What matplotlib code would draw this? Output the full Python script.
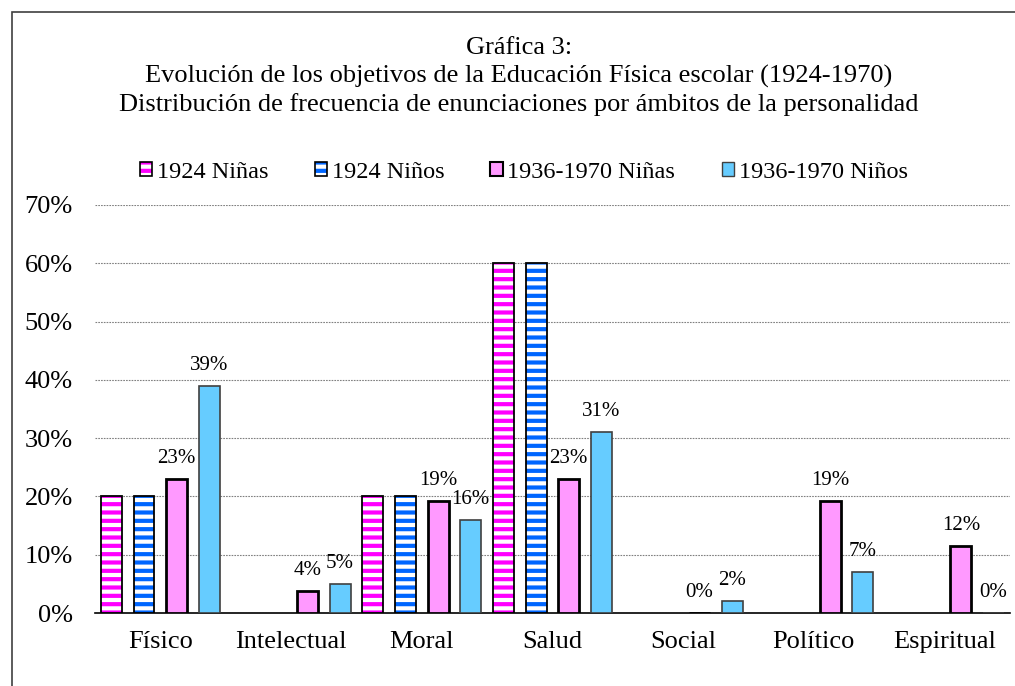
import matplotlib
matplotlib.use("Agg")
import matplotlib.pyplot as plt
import numpy as np
from matplotlib.patches import Rectangle
from matplotlib.legend_handler import HandlerTuple

plt.rcParams['font.family'] = ['Liberation Serif', 'DejaVu Serif']
plt.rcParams['hatch.linewidth'] = 3.0

# data (fractions); None = no bar
categories = ['Físico', 'Intelectual', 'Moral', 'Salud', 'Social', 'Político', 'Espiritual']
ninas_1924 = [0.20, None, 0.20, 0.60, None, None, None]
ninos_1924 = [0.20, None, 0.20, 0.60, None, None, None]
ninas_1936 = [0.23, 0.038, 0.192, 0.23, 0.0, 0.192, 0.115]
ninos_1936 = [0.39, 0.05, 0.16, 0.31, 0.02, 0.07, 0.0]
labels_ninas_1936 = ['23%', '4%', '19%', '23%', '0%', '19%', '12%']
labels_ninos_1936 = ['39%', '5%', '16%', '31%', '2%', '7%', '0%']
series_names = ['1924 Niñas', '1924 Niños', '1936-1970 Niñas', '1936-1970 Niños']

fig = plt.figure(figsize=(10.15, 6.86), dpi=100)
ax = fig.add_axes([0.0936, 0.1064, 0.9014, 0.5948])

x = np.arange(len(categories))
w = 0.16
offs = [-0.375, -0.125, 0.125, 0.375]

# hatched 1924 series: stripes drawn with edgecolor, then a black outline on top
for vals, col, off in [(ninas_1924, '#FF00FF', offs[0]), (ninos_1924, '#0066FF', offs[1])]:
    mask = [v is not None for v in vals]
    xs = x[mask] + off
    hs = [v for v in vals if v is not None]
    ax.bar(xs, hs, w, color='white', edgecolor=col, hatch='--', linewidth=0, zorder=3)
    ax.bar(xs, hs, w, fill=False, edgecolor='black', linewidth=1.3, zorder=4)

ax.bar(x + offs[2], ninas_1936, w, color='#FF99FF', edgecolor='black', linewidth=2, zorder=3)
ax.bar(x + offs[3], ninos_1936, w, color='#66CCFF', edgecolor='#404040', linewidth=1.2, zorder=3)

for i in range(len(categories)):
    ax.annotate(labels_ninas_1936[i], (x[i] + offs[2], ninas_1936[i]), xytext=(0, 8),
                textcoords='offset points', ha='center', va='bottom', fontsize=15)
    ax.annotate(labels_ninos_1936[i], (x[i] + offs[3], ninos_1936[i]), xytext=(0, 8),
                textcoords='offset points', ha='center', va='bottom', fontsize=15)

ax.set_xlim(-0.5, len(categories) - 0.5)
ax.set_ylim(0, 0.70)
ticks = np.arange(0, 0.71, 0.1)
ax.set_yticks(ticks)
ax.set_yticklabels([f'{int(round(t * 100))}%' for t in ticks], fontsize=19)
ax.set_xticks(x)
ax.set_xticklabels(categories, fontsize=19)
ax.tick_params(axis='y', length=0, pad=16)
ax.tick_params(axis='x', length=0, pad=13)
ax.yaxis.grid(True, linestyle=(0, (1.5, 1)), color='#808080', linewidth=0.8)
ax.set_axisbelow(True)
for s in ['top', 'right', 'left']:
    ax.spines[s].set_visible(False)
ax.spines['bottom'].set_linewidth(1.2)

# legend
h1 = (Rectangle((0, 0), 1, 1, facecolor='white', edgecolor='#FF00FF', hatch='--', linewidth=0),
      Rectangle((0, 0), 1, 1, fill=False, edgecolor='black', linewidth=1.2))
h2 = (Rectangle((0, 0), 1, 1, facecolor='white', edgecolor='#0066FF', hatch='--', linewidth=0),
      Rectangle((0, 0), 1, 1, fill=False, edgecolor='black', linewidth=1.2))
h3 = Rectangle((0, 0), 1, 1, facecolor='#FF99FF', edgecolor='black', linewidth=1.5)
h4 = Rectangle((0, 0), 1, 1, facecolor='#66CCFF', edgecolor='#404040', linewidth=1)
fig.legend([h1, h2, h3, h4], series_names, loc='center', bbox_to_anchor=(0.516, 0.749), ncol=4,
           frameon=False, fontsize=17.5, handlelength=0.5, handleheight=0.5,
           handletextpad=0.2, columnspacing=1.9,
           handler_map={tuple: HandlerTuple(ndivide=1, pad=0)})

fig.text(0.511, 0.888, 'Gráfica 3:\nEvolución de los objetivos de la Educación Física escolar (1924-1970)\n'
         'Distribución de frecuencia de enunciaciones por ámbitos de la personalidad',
         ha='center', va='center', fontsize=19, linespacing=1.3)

# outer chart border
fig.patches.append(Rectangle((0.0118, -0.05), 1.1, 1.0325, transform=fig.transFigure,
                             fill=False, edgecolor='#404040', linewidth=1.2))

fig.savefig('out.png', dpi=100)
